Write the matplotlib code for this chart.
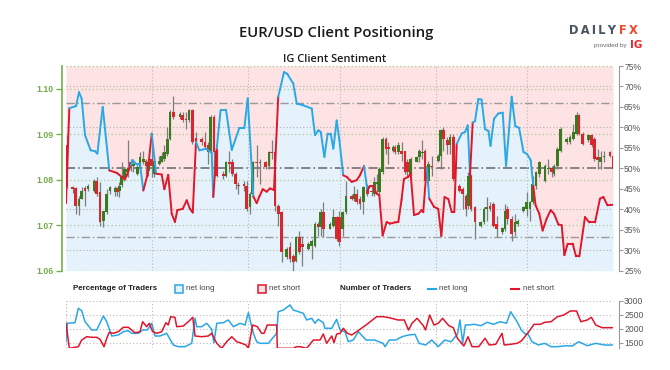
import numpy as np
import matplotlib
matplotlib.use("Agg")
import matplotlib.pyplot as plt
from matplotlib.collections import LineCollection
from matplotlib.patches import Rectangle
from matplotlib.lines import Line2D

# ---------------- data ----------------
# IG client sentiment: % of traders net long (x in days from left edge)
sent_day = [0.0, 0.25, 0.75, 0.97, 1.17, 1.42, 1.84, 2.16, 2.34, 2.74,
            3.23, 3.78, 4.16, 4.40, 4.85, 4.98, 5.22, 5.52, 5.77, 6.07,
            6.40, 6.72, 7.14, 7.34, 7.63, 7.89, 8.13, 8.31, 8.71, 9.01,
            9.25, 9.46, 9.70, 9.95, 10.45, 10.87, 10.99, 11.25, 11.54, 11.94,
            12.37, 12.93, 13.31, 13.56, 13.98, 14.23, 14.43, 14.68, 14.98, 15.22,
            15.52, 15.84, 16.27, 16.51, 16.96, 17.22, 17.71, 18.34, 18.58, 18.83,
            19.01, 19.28, 19.53, 19.75, 19.95, 20.20, 20.40, 20.69, 20.95, 21.32,
            21.69, 21.94, 22.24, 22.49, 22.69, 22.89, 23.19, 23.38, 23.63, 23.93,
            24.18, 24.55, 24.80, 25.04, 25.22, 25.54, 25.72, 25.97, 26.29, 26.54,
            26.66, 26.92, 27.11, 27.46, 27.78, 28.01, 28.25, 28.53, 28.78, 28.98,
            29.16, 29.53, 29.78, 29.98, 30.15, 30.35, 30.52, 30.77, 31.01, 31.27,
            31.53, 31.68, 31.94, 32.26, 32.59, 32.84, 33.26, 33.53, 33.81, 34.14,
            34.40, 34.68, 34.87, 35.04, 35.32, 35.57, 35.87, 36.17, 36.42, 36.74,
            36.99, 37.19, 37.44, 37.81, 38.06, 38.31, 38.73, 39.05, 39.48, 39.85,
            40.10, 40.40, 40.82]
sent_pct = [41.5, 64.7, 65.2, 68.6, 67.0, 58.1, 54.4, 54.2, 53.6, 65.0,
            49.5, 48.9, 47.9, 47.3, 50.8, 52.0, 51.1, 51.1, 44.6, 48.3,
            58.5, 48.7, 48.5, 44.9, 48.4, 38.9, 36.9, 39.8, 40.1, 42.2,
            40.1, 39.2, 56.4, 54.4, 54.8, 53.8, 43.0, 54.9, 64.3, 64.3,
            54.5, 59.8, 59.8, 67.1, 43.1, 41.5, 43.1, 44.9, 44.3, 45.1,
            44.7, 67.5, 73.5, 73.1, 70.7, 65.8, 65.4, 64.6, 58.1, 59.3,
            58.9, 52.8, 58.5, 58.5, 54.8, 61.7, 56.9, 48.3, 47.9, 46.7,
            47.1, 48.3, 50.6, 44.5, 45.7, 45.7, 43.8, 43.4, 33.6, 36.9,
            36.5, 36.8, 36.9, 42.3, 47.4, 47.9, 48.7, 38.6, 38.9, 39.8,
            39.3, 50.3, 42.6, 40.6, 40.1, 33.5, 43.0, 42.5, 39.3, 39.3,
            56.0, 58.5, 58.9, 60.5, 48.3, 61.2, 61.5, 66.9, 66.8, 59.6,
            59.1, 55.5, 62.1, 63.4, 63.6, 50.6, 67.5, 60.3, 59.9, 54.0,
            53.5, 52.0, 45.7, 41.0, 38.9, 34.8, 37.7, 39.8, 38.9, 36.3,
            36.1, 28.8, 31.6, 31.6, 28.5, 28.5, 38.1, 36.8, 36.8, 42.6,
            43.0, 41.0, 41.1]

# EUR/USD candles
c_day = [0.05, 0.50, 0.72, 0.97, 1.17, 1.42, 1.64, 2.09, 2.29, 2.54,
         2.79, 3.04, 3.28, 3.66, 3.83, 3.98, 4.16, 4.35, 4.53, 4.65,
         4.83, 5.02, 5.32, 5.52, 5.77, 5.97, 6.14, 6.40, 6.59, 6.96,
         7.14, 7.34, 7.56, 7.76, 8.01, 8.51, 8.71, 8.96, 9.18, 9.43,
         9.70, 10.12, 10.37, 10.62, 10.80, 11.04, 11.24, 11.74, 11.94, 12.19,
         12.41, 12.66, 12.86, 13.28, 13.48, 13.73, 13.93, 14.23, 14.48, 14.90,
         15.15, 15.35, 15.60, 15.84, 16.10, 16.47, 16.72, 16.97, 17.16, 17.41,
         17.64, 18.08, 18.34, 18.58, 18.83, 19.01, 19.20, 19.70, 19.95, 20.20,
         20.40, 20.65, 20.90, 21.32, 21.49, 21.69, 21.94, 22.19, 22.49, 22.81,
         23.01, 23.19, 23.38, 23.63, 23.88, 24.05, 24.43, 24.55, 24.80, 25.05,
         25.30, 25.47, 25.72, 26.17, 26.37, 26.59, 26.79, 27.04, 27.29, 27.78,
         27.96, 28.16, 28.46, 28.66, 28.90, 29.35, 29.60, 29.85, 30.02, 30.22,
         30.52, 30.95, 31.19, 31.40, 31.64, 31.89, 32.14, 32.56, 32.76, 32.93,
         33.26, 33.51, 33.71, 34.13, 34.38, 34.63, 34.83, 35.07, 35.32, 35.75,
         35.99, 36.25, 36.42, 36.67, 36.92, 37.37, 37.61, 37.86, 38.11, 38.28,
         38.56, 38.98, 39.23, 39.43, 39.68, 39.90, 40.15, 40.60, 40.84]
c_open = [1.0876, 1.0784, 1.0782, 1.0742, 1.0758, 1.0782, 1.0779, 1.0776, 1.0798, 1.0773,
          1.0710, 1.0729, 1.0776, 1.0774, 1.0782, 1.0776, 1.0789, 1.0802, 1.0817, 1.0823,
          1.0839, 1.0830, 1.0813, 1.0826, 1.0839, 1.0842, 1.0820, 1.0846, 1.0813, 1.0835,
          1.0839, 1.0846, 1.0857, 1.0890, 1.0949, 1.0938, 1.0943, 1.0934, 1.0931, 1.0953,
          1.0892, 1.0890, 1.0884, 1.0876, 1.0861, 1.0938, 1.0864, 1.0813, 1.0809, 1.0839,
          1.0839, 1.0813, 1.0789, 1.0791, 1.0787, 1.0740, 1.0769, 1.0839, 1.0836, 1.0839,
          1.0831, 1.0861, 1.0861, 1.0743, 1.0729, 1.0630, 1.0652, 1.0633, 1.0622, 1.0674,
          1.0659, 1.0648, 1.0655, 1.0655, 1.0703, 1.0696, 1.0729, 1.0692, 1.0699, 1.0718,
          1.0718, 1.0692, 1.0729, 1.0765, 1.0758, 1.0769, 1.0758, 1.0751, 1.0787, 1.0776,
          1.0769, 1.0791, 1.0773, 1.0817, 1.0890, 1.0872, 1.0864, 1.0872, 1.0861, 1.0864,
          1.0864, 1.0839, 1.0813, 1.0839, 1.0850, 1.0858, 1.0864, 1.0798, 1.0831, 1.0842,
          1.0853, 1.0909, 1.0887, 1.0876, 1.0894, 1.0787, 1.0780, 1.0765, 1.0743, 1.0809,
          1.0740, 1.0699, 1.0707, 1.0736, 1.0743, 1.0747, 1.0703, 1.0685, 1.0692, 1.0736,
          1.0714, 1.0685, 1.0703, 1.0732, 1.0736, 1.0736, 1.0751, 1.0787, 1.0813, 1.0798,
          1.0824, 1.0826, 1.0813, 1.0831, 1.0864, 1.0883, 1.0883, 1.0890, 1.0901, 1.0942,
          1.0901, 1.0887, 1.0898, 1.0890, 1.0850, 1.0839, 1.0849, 1.0862, 1.0853]
c_high = [1.0898, 1.0787, 1.0784, 1.0765, 1.0784, 1.0787, 1.0791, 1.0802, 1.0806, 1.0795,
          1.0732, 1.0780, 1.0787, 1.0787, 1.0784, 1.0795, 1.0839, 1.0824, 1.0828, 1.0887,
          1.0846, 1.0842, 1.0835, 1.0861, 1.0864, 1.0846, 1.0846, 1.0876, 1.0850, 1.0853,
          1.0861, 1.0876, 1.0916, 1.0953, 1.0983, 1.0949, 1.0949, 1.0949, 1.0956, 1.0956,
          1.0905, 1.0894, 1.0905, 1.0883, 1.0942, 1.0942, 1.0868, 1.0820, 1.0842, 1.0864,
          1.0846, 1.0817, 1.0795, 1.0798, 1.0798, 1.0773, 1.0842, 1.0876, 1.0846, 1.0842,
          1.0864, 1.0887, 1.0864, 1.0747, 1.0732, 1.0652, 1.0663, 1.0637, 1.0677, 1.0688,
          1.0677, 1.0663, 1.0670, 1.0707, 1.0707, 1.0736, 1.0751, 1.0707, 1.0736, 1.0721,
          1.0732, 1.0732, 1.0798, 1.0769, 1.0787, 1.0780, 1.0765, 1.0787, 1.0791, 1.0787,
          1.0806, 1.0813, 1.0828, 1.0894, 1.0894, 1.0883, 1.0876, 1.0876, 1.0883, 1.0883,
          1.0864, 1.0846, 1.0850, 1.0853, 1.0868, 1.0887, 1.0868, 1.0842, 1.0853, 1.0857,
          1.0912, 1.0916, 1.0894, 1.0901, 1.0901, 1.0791, 1.0784, 1.0769, 1.0817, 1.0813,
          1.0743, 1.0710, 1.0740, 1.0762, 1.0751, 1.0751, 1.0721, 1.0696, 1.0747, 1.0743,
          1.0721, 1.0725, 1.0714, 1.0743, 1.0773, 1.0754, 1.0809, 1.0820, 1.0842, 1.0835,
          1.0846, 1.0831, 1.0835, 1.0872, 1.0916, 1.0894, 1.0898, 1.0923, 1.0949, 1.0945,
          1.0905, 1.0901, 1.0901, 1.0894, 1.0868, 1.0864, 1.0864, 1.0864, 1.0864]
c_low = [1.0782, 1.0771, 1.0725, 1.0723, 1.0757, 1.0743, 1.0776, 1.0773, 1.0765, 1.0699,
         1.0696, 1.0725, 1.0769, 1.0765, 1.0765, 1.0762, 1.0784, 1.0798, 1.0809, 1.0806,
         1.0820, 1.0817, 1.0811, 1.0817, 1.0835, 1.0813, 1.0809, 1.0806, 1.0806, 1.0833,
         1.0839, 1.0842, 1.0853, 1.0887, 1.0934, 1.0934, 1.0927, 1.0912, 1.0927, 1.0879,
         1.0876, 1.0877, 1.0868, 1.0835, 1.0857, 1.0806, 1.0806, 1.0802, 1.0806, 1.0817,
         1.0809, 1.0780, 1.0769, 1.0776, 1.0732, 1.0725, 1.0765, 1.0806, 1.0791, 1.0824,
         1.0824, 1.0846, 1.0732, 1.0699, 1.0619, 1.0626, 1.0619, 1.0600, 1.0619, 1.0637,
         1.0611, 1.0645, 1.0626, 1.0652, 1.0677, 1.0677, 1.0674, 1.0692, 1.0696, 1.0666,
         1.0655, 1.0677, 1.0725, 1.0755, 1.0754, 1.0747, 1.0736, 1.0725, 1.0765, 1.0765,
         1.0765, 1.0773, 1.0769, 1.0813, 1.0857, 1.0835, 1.0860, 1.0857, 1.0857, 1.0842,
         1.0813, 1.0806, 1.0809, 1.0839, 1.0839, 1.0846, 1.0795, 1.0795, 1.0809, 1.0839,
         1.0824, 1.0864, 1.0857, 1.0857, 1.0798, 1.0773, 1.0736, 1.0721, 1.0736, 1.0732,
         1.0670, 1.0696, 1.0703, 1.0710, 1.0732, 1.0696, 1.0674, 1.0681, 1.0688, 1.0703,
         1.0666, 1.0677, 1.0699, 1.0729, 1.0721, 1.0710, 1.0747, 1.0780, 1.0806, 1.0795,
         1.0813, 1.0806, 1.0809, 1.0824, 1.0861, 1.0879, 1.0879, 1.0887, 1.0898, 1.0898,
         1.0876, 1.0883, 1.0872, 1.0842, 1.0824, 1.0824, 1.0839, 1.0850, 1.0802]
c_close = [1.0786, 1.0780, 1.0742, 1.0758, 1.0776, 1.0776, 1.0787, 1.0798, 1.0769, 1.0707,
           1.0732, 1.0769, 1.0784, 1.0782, 1.0773, 1.0787, 1.0809, 1.0823, 1.0824, 1.0826,
           1.0831, 1.0835, 1.0828, 1.0850, 1.0846, 1.0831, 1.0839, 1.0831, 1.0842, 1.0842,
           1.0853, 1.0861, 1.0890, 1.0949, 1.0938, 1.0945, 1.0931, 1.0931, 1.0953, 1.0883,
           1.0885, 1.0883, 1.0872, 1.0861, 1.0938, 1.0861, 1.0809, 1.0809, 1.0839, 1.0835,
           1.0813, 1.0791, 1.0786, 1.0787, 1.0736, 1.0769, 1.0839, 1.0836, 1.0839, 1.0828,
           1.0861, 1.0858, 1.0743, 1.0725, 1.0641, 1.0648, 1.0626, 1.0619, 1.0674, 1.0641,
           1.0652, 1.0659, 1.0666, 1.0703, 1.0696, 1.0729, 1.0692, 1.0703, 1.0718, 1.0670,
           1.0663, 1.0729, 1.0765, 1.0758, 1.0769, 1.0751, 1.0747, 1.0784, 1.0769, 1.0773,
           1.0795, 1.0795, 1.0824, 1.0890, 1.0867, 1.0868, 1.0872, 1.0861, 1.0876, 1.0857,
           1.0817, 1.0817, 1.0846, 1.0850, 1.0864, 1.0862, 1.0798, 1.0835, 1.0828, 1.0853,
           1.0909, 1.0890, 1.0876, 1.0894, 1.0802, 1.0776, 1.0769, 1.0736, 1.0809, 1.0736,
           1.0707, 1.0707, 1.0736, 1.0740, 1.0736, 1.0699, 1.0692, 1.0693, 1.0732, 1.0714,
           1.0681, 1.0707, 1.0710, 1.0740, 1.0751, 1.0751, 1.0791, 1.0817, 1.0839, 1.0831,
           1.0825, 1.0817, 1.0831, 1.0868, 1.0912, 1.0890, 1.0894, 1.0905, 1.0942, 1.0901,
           1.0879, 1.0898, 1.0876, 1.0846, 1.0843, 1.0850, 1.0853, 1.0853, 1.0824]

# Number of traders (lower panel)
nl_day = [0.0, 0.1, 0.67, 0.92, 1.17, 1.42, 1.92, 2.29, 2.79, 3.04,
          3.41, 3.90, 4.28, 4.65, 4.90, 5.40, 5.72, 6.07, 6.40, 6.64,
          7.01, 7.51, 8.01, 8.38, 8.88, 9.38, 9.63, 9.75, 10.13, 10.50,
          10.87, 11.04, 11.25, 11.74, 12.11, 12.49, 12.99, 13.36, 13.61, 13.98,
          14.23, 14.48, 15.10, 15.72, 15.84, 16.22, 16.72, 16.96, 17.34, 17.71,
          17.96, 18.34, 18.58, 18.83, 19.20, 19.33, 19.83, 20.20, 20.45, 20.82,
          21.07, 21.44, 21.82, 22.39, 23.02, 23.66, 23.81, 24.13, 24.61, 25.08,
          25.56, 26.04, 26.35, 26.83, 27.30, 27.78, 28.26, 28.74, 29.21, 29.40,
          29.60, 29.80, 30.0, 30.48, 30.96, 31.43, 31.91, 32.39, 32.87, 33.18,
          33.66, 33.98, 34.29, 34.45, 34.77, 35.25, 35.72, 36.20, 36.67, 37.31,
          37.78, 38.26, 38.90, 39.53, 40.17, 40.82]
nl_val = [1550, 2200, 2220, 2730, 2645, 2255, 1961, 1961, 2457, 2255,
          1748, 1784, 1901, 1936, 1844, 1844, 1961, 1961, 2199, 1748,
          1748, 1844, 1429, 1369, 1369, 1489, 2376, 2078, 2078, 2199,
          1986, 1511, 2199, 2220, 2316, 2078, 2199, 2138, 2575, 1844,
          1546, 1489, 1489, 1844, 2610, 2670, 2848, 2670, 2610, 2553,
          2316, 2376, 2199, 2340, 2220, 2021, 2021, 2340, 1961, 1901,
          1546, 1606, 1900, 1606, 1606, 1489, 1369, 1606, 1606, 1723,
          1784, 1808, 1489, 1429, 1606, 1369, 1606, 1546, 1808, 2316,
          1500, 2138, 2138, 2163, 2113, 2234, 2163, 2255, 2199, 2610,
          2255, 1961, 1808, 1844, 1546, 1429, 1489, 1369, 1369, 1404,
          1394, 1546, 1404, 1489, 1429, 1429]
ns_day = [0.0, 0.25, 0.92, 1.17, 1.54, 1.92, 2.29, 2.54, 2.84, 3.04,
          3.23, 3.53, 3.90, 4.28, 4.65, 4.90, 5.15, 5.52, 5.72, 6.02,
          6.22, 6.47, 6.77, 7.14, 7.46, 7.63, 7.81, 8.13, 8.26, 8.75,
          9.13, 9.46, 9.63, 10.13, 10.62, 10.87, 11.25, 11.62, 11.99, 12.37,
          12.74, 13.11, 13.43, 13.61, 13.93, 14.28, 14.60, 14.78, 15.02, 15.47,
          15.72, 15.77, 16.96, 17.21, 17.46, 17.96, 18.46, 18.96, 19.20, 19.45,
          19.83, 20.0, 20.2, 20.45, 20.7, 21.0, 21.32, 21.69, 21.94, 22.39,
          22.87, 23.18, 23.66, 24.13, 24.77, 25.24, 25.56, 25.82, 26.2, 26.67,
          26.83, 27.14, 27.46, 27.78, 28.1, 28.57, 28.9, 29.21, 29.69, 30.0,
          30.3, 30.8, 31.27, 31.59, 32.07, 32.54, 32.7, 33.18, 33.66, 33.98,
          34.45, 34.93, 35.4, 35.72, 36.2, 36.67, 37.15, 37.63, 38.1, 38.42,
          38.9, 39.21, 39.53, 40.0, 40.82]
ns_val = [2199, 1312, 1369, 1606, 1723, 1702, 1702, 1631, 1369, 1667,
          1879, 1844, 1901, 2057, 2057, 1961, 1860, 1901, 2255, 2078,
          2199, 1901, 1844, 1901, 2220, 2138, 2433, 2411, 2078, 2100,
          2255, 2411, 1748, 1723, 1748, 1844, 1489, 1312, 1546, 1723,
          1546, 1489, 1429, 1312, 2138, 2078, 1844, 1844, 2138, 2138,
          2138, 1312, 1312, 1369, 1369, 1312, 1606, 1606, 1819, 1489,
          1748, 1511, 1819, 1844, 2021, 1844, 1784, 1901, 1986, 2138,
          2316, 2433, 2433, 2397, 2316, 2316, 1961, 2199, 2376, 2113,
          1961, 2493, 2138, 2199, 2376, 2113, 2043, 1667, 1394, 1723,
          1369, 1369, 1667, 1429, 1454, 1844, 1429, 1454, 1489, 1571,
          1844, 2163, 2163, 2234, 2255, 2433, 2493, 2635, 2635, 2255,
          2316, 2411, 2138, 2043, 2043]

price_ticks = [1.06, 1.07, 1.08, 1.09, 1.10]
pct_ticks = [25, 30, 35, 40, 45, 50, 55, 60, 65, 70, 75]
pct_grid = [30, 40, 60, 70]
pct_levels = [33.2, 66.0]
week_lines = [6.44, 13.6, 20.45, 27.6, 34.43]
count_ticks = [1500, 2000, 2500, 3000]

# ---------------- style ----------------
BLUE = "#2aa7e6"
RED = "#e0162b"
PINK = "#fde3e3"
LBLUE = "#e5f2fb"
GREEN_UP = "#3c7a22"
RED_DN = "#d8252e"
AXGREEN = "#74ad4a"
GRIDGREEN = "#a9c98e"
GRAY = "#555555"

W, H = 670, 370
fig = plt.figure(figsize=(6.7, 3.7), dpi=100)


def rect(x0, y0, x1, y1):
    return [x0 / W, 1 - y1 / H, (x1 - x0) / W, (y1 - y0) / H]


XMAX = 40.82
main = rect(66, 66, 613, 270.7)
ax_bg = fig.add_axes(main)
ax_c = fig.add_axes(main)
ax_l = fig.add_axes(main)
for a in (ax_bg, ax_c, ax_l):
    a.set_xlim(0, XMAX)
ax_bg.set_ylim(25, 75)
ax_l.set_ylim(25, 75)
ax_c.set_ylim(1.06, 1.105)

# background fills
sd = np.array(sent_day)
sp = np.array(sent_pct)
ax_bg.fill_between(sd, sp, 75, color=PINK, lw=0, zorder=1)
ax_bg.fill_between(sd, 25, sp, color=LBLUE, lw=0, zorder=1)
for v in pct_grid:
    ax_bg.axhline(v, color="#b0b0b0", lw=0.8, ls=(0, (1, 2)), zorder=2)
for v in pct_levels:
    ax_bg.axhline(v, color="#9a9a9a", lw=1.0, ls=(0, (6, 2, 1, 2)), zorder=2)
ax_bg.axhline(50, color="#666666", lw=1.1, ls=(0, (6, 2, 1, 2)), zorder=2)
for d in week_lines:
    ax_bg.axvline(d, color="#b8b8b8", lw=0.8, ls=(0, (1, 2)), zorder=2)
for s in ("top", "left", "bottom"):
    ax_bg.spines[s].set_visible(False)
ax_bg.spines["right"].set_position(("outward", 4))
ax_bg.spines["right"].set_color("#9a9a9a")
ax_bg.yaxis.tick_right()
ax_bg.set_yticks(pct_ticks)
ax_bg.set_yticklabels([f"{t}%" for t in pct_ticks])
ax_bg.tick_params(axis="y", length=3, width=0.8, color="#9a9a9a", pad=1,
                  labelsize=6.2, labelcolor=GRAY)
for lab in ax_bg.get_yticklabels():
    lab.set_family(["Liberation Sans", "DejaVu Sans"])
ax_bg.set_xticks([])

# candles
ax_c.patch.set_visible(False)
for v in price_ticks:
    ax_c.axhline(v, color=GRIDGREEN, lw=0.9, ls=(0, (1, 2)), zorder=1)
ax_c.axhline(1.105, color=GRIDGREEN, lw=0.9, ls=(0, (1, 2)), zorder=1, clip_on=False)
o = np.array(c_open); c = np.array(c_close)
hi = np.array(c_high); lo = np.array(c_low)
cols = [GREEN_UP if cc >= oo else RED_DN for oo, cc in zip(o, c)]
ax_c.vlines(c_day, lo, hi, color="#7d7d7d", lw=0.9, zorder=3)
body = np.maximum(np.abs(c - o), 0.00012)
ax_c.bar(c_day, body, bottom=np.minimum(o, c), width=0.2, color=cols,
         lw=0, zorder=4)
for s in ("top", "right", "bottom"):
    ax_c.spines[s].set_visible(False)
ax_c.spines["left"].set_position(("outward", 3))
ax_c.spines["left"].set_color(AXGREEN)
ax_c.spines["left"].set_linewidth(1.2)
ax_c.set_yticks(price_ticks)
ax_c.set_yticklabels([f"{t:.2f}" for t in price_ticks])
ax_c.tick_params(axis="y", length=4, width=1.0, color=AXGREEN, pad=2,
                 labelsize=6.3, labelcolor=AXGREEN)
for lab in ax_c.get_yticklabels():
    lab.set_family(["Liberation Sans Narrow", "Liberation Sans", "DejaVu Sans"])
    lab.set_weight("bold")
ax_c.set_xticks([])

# sentiment line coloured by side
ax_l.axis("off")
pts = np.column_stack([sd, sp])
segs = np.stack([pts[:-1], pts[1:]], axis=1)
seg_cols = [BLUE if p > 50 else RED for p in sp[:-1]]
ax_l.add_collection(LineCollection(segs, colors=seg_cols, linewidths=1.4,
                                   capstyle="round", joinstyle="round"))

# lower panel: number of traders
ax_b = fig.add_axes(rect(66, 300.7, 613, 348.3))
ax_b.set_xlim(0, XMAX)
ax_b.set_ylim(1312, 3000)
for v in count_ticks:
    ax_b.axhline(v, color="#b8b8b8", lw=0.8, ls=(0, (1, 2)), zorder=1, clip_on=False)
for d in [0.0] + week_lines:
    ax_b.axvline(d, color="#b8b8b8", lw=0.8, ls=(0, (1, 2)), zorder=1)
ax_b.plot(nl_day, nl_val, color=BLUE, lw=1.1, zorder=3)
ax_b.plot(ns_day, ns_val, color=RED, lw=1.1, zorder=3)
for s in ("top", "left", "bottom"):
    ax_b.spines[s].set_visible(False)
ax_b.spines["right"].set_position(("outward", 4))
ax_b.spines["right"].set_color("#9a9a9a")
ax_b.yaxis.tick_right()
ax_b.set_yticks(count_ticks)
ax_b.tick_params(axis="y", length=3, width=0.8, color="#9a9a9a", pad=1,
                 labelsize=6.2, labelcolor=GRAY)
for lab in ax_b.get_yticklabels():
    lab.set_family(["Liberation Sans", "DejaVu Sans"])
ax_b.set_xticks([])

# ---------------- texts ----------------
def fx(px):
    return px / W


def fy(py):
    return 1 - py / H


fig.text(fx(336), fy(33), "EUR/USD Client Positioning", ha="center", va="center",
         fontsize=10.7, family=["Open Sans", "DejaVu Sans"], weight="semibold",
         color="#1a1a1a")
fig.text(fx(335), fy(59), "IG Client Sentiment", ha="center", va="center",
         fontsize=7.9, family=["Open Sans", "DejaVu Sans"], weight="semibold",
         color="#1a1a1a")

# logo
fig.text(fx(569), fy(31), "D\u2009A\u2009I\u2009L\u2009Y", ha="left", va="center",
         fontsize=8.3, family="DejaVu Sans", weight="bold", color="#4a545e")
fig.text(fx(619), fy(31), "F\u2009X", ha="left", va="center",
         fontsize=8.3, family="DejaVu Sans", weight="bold", color="#ee4a2b")
fig.text(fx(627), fy(45.5), "provided by", ha="right", va="center",
         fontsize=4.6, family=["Liberation Sans", "DejaVu Sans"], color="#666666")
fig.text(fx(630), fy(45), "IG", ha="left", va="center",
         fontsize=7.5, family="DejaVu Sans", weight="bold", color="#e8252c")

# legend row
LEGY = 289
leg_font = ["Liberation Sans", "DejaVu Sans"]
fig.text(fx(73), fy(LEGY), "Percentage of Traders", ha="left", va="center",
         fontsize=5.8, family=leg_font, weight="bold", color="#222222")
fig.text(fx(340), fy(LEGY), "Number of Traders", ha="left", va="center",
         fontsize=5.8, family=leg_font, weight="bold", color="#222222")
fig.patches.append(Rectangle((fx(175), fy(293)), 8 / W, 8 / H, transform=fig.transFigure,
                             facecolor=LBLUE, edgecolor=BLUE, lw=1.1))
fig.patches.append(Rectangle((fx(258), fy(293)), 8 / W, 8 / H, transform=fig.transFigure,
                             facecolor=PINK, edgecolor=RED, lw=1.1))
fig.text(fx(186), fy(LEGY), "net long", ha="left", va="center", fontsize=5.8,
         family=leg_font, color="#444444")
fig.text(fx(269), fy(LEGY), "net short", ha="left", va="center", fontsize=5.8,
         family=leg_font, color="#444444")
fig.lines.append(Line2D([fx(428), fx(436)], [fy(LEGY), fy(LEGY)], transform=fig.transFigure,
                        color=BLUE, lw=1.5))
fig.lines.append(Line2D([fx(511), fx(519)], [fy(LEGY), fy(LEGY)], transform=fig.transFigure,
                        color=RED, lw=1.5))
fig.text(fx(439), fy(LEGY), "net long", ha="left", va="center", fontsize=5.8,
         family=leg_font, color="#444444")
fig.text(fx(523), fy(LEGY), "net short", ha="left", va="center", fontsize=5.8,
         family=leg_font, color="#444444")

fig.savefig("out.png", dpi=100, facecolor="white")
